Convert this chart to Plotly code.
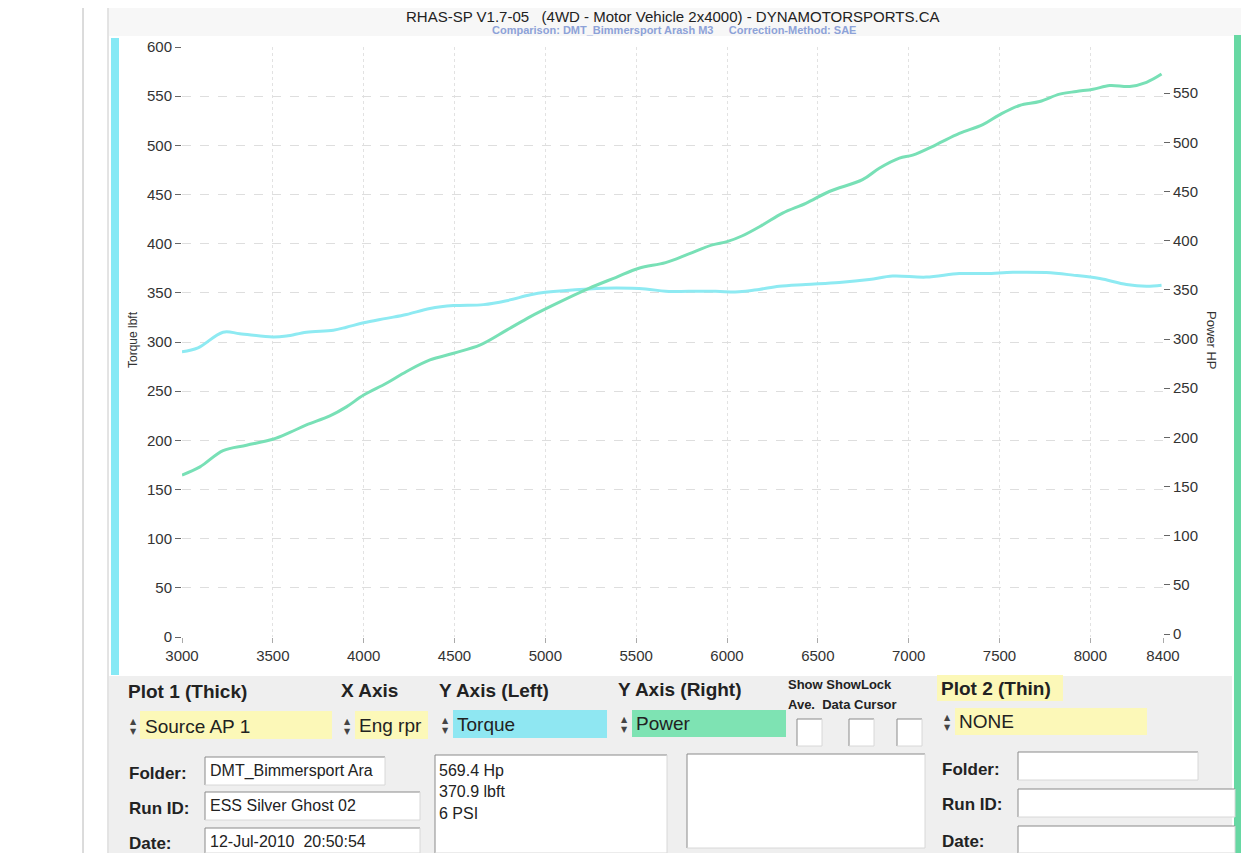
import plotly.graph_objects as go

# ---------------- data (read from the dyno sheet) ----------------
rpm_torque = [3000, 3088, 3226, 3318, 3500, 3575, 3685, 3833, 3905, 4000, 4125, 4236,
              4365, 4495, 4660, 4787, 4918, 5000, 5240, 5387, 5552, 5662, 5790, 5937,
              6066, 6177, 6287, 6434, 6618, 6783, 6912, 7096, 7279, 7426, 7574, 7757,
              7904, 8052, 8199, 8309, 8392]
torque = [290, 294, 310, 308.5, 305, 306, 310, 312, 315, 319.5, 324, 328,
          334, 337, 338, 342, 348, 350.5, 354, 355, 354, 351.5, 351.5, 351.5,
          351, 353.5, 356.7, 358.5, 360.5, 363.5, 367, 366, 369.6, 369.6, 370.9, 370.6,
          368, 364.5, 358.5, 356.7, 357.7]

rpm_power = [3000, 3099, 3226, 3355, 3500, 3594, 3685, 3814, 3905, 4000, 4125, 4236,
             4365, 4495, 4642, 4787, 4918, 5046, 5240, 5387, 5515, 5662, 5790, 5919,
             6000, 6085, 6196, 6306, 6434, 6563, 6746, 6838, 6949, 7022, 7150, 7279,
             7408, 7500, 7610, 7721, 7831, 7923, 8015, 8107, 8217, 8309, 8392]
power = [161.7, 170, 186.5, 192, 198, 205, 212.6, 221.8, 231, 243, 255, 267,
         278.7, 285.5, 294, 309, 322.8, 334.7, 351.5, 362.5, 372, 377.7, 386.6, 395.7,
         399, 405, 416, 428, 438, 450, 462, 473.7, 484, 487, 497.5, 509,
         518, 528, 537.5, 541.5, 549, 551.7, 554, 557.8, 556.8, 561, 569.4]

x_ticks = [3000, 3500, 4000, 4500, 5000, 5500, 6000, 6500, 7000, 7500, 8000, 8400]
y_ticks = [0, 50, 100, 150, 200, 250, 300, 350, 400, 450, 500, 550, 600]

title_text = "RHAS-SP V1.7-05\u00a0\u00a0\u00a0(4WD - Motor Vehicle 2x4000) - DYNAMOTORSPORTS.CA"
subtitle_text = "Comparison: DMT_Bimmersport Arash M3\u00a0\u00a0\u00a0\u00a0\u00a0Correction-Method: SAE"
summary_lines = ["569.4 Hp", "370.9 lbft", "6 PSI"]

# ---------------- layout helpers ----------------
# the page body has an 8px margin, so the figure is 8px smaller on each axis
OFF = 8
W, H = 1249 - OFF, 853 - OFF
def px(x):
    return (x - OFF) / W
def py(y):
    return 1 - (y - OFF) / H

FONT = "Liberation Sans, Arial, sans-serif"
TORQUE_C = "#8eeaf2"
POWER_C = "#78e0b6"
YELLOW = "#fcf8b8"
CYAN_BOX = "#8fe7f2"
GREEN_BOX = "#7ee3b3"

fig = go.Figure()
fig.add_trace(go.Scatter(x=rpm_torque, y=torque, mode="lines", line=dict(color=TORQUE_C, width=3),
                         yaxis="y", name="Torque", line_shape="spline"))
fig.add_trace(go.Scatter(x=rpm_power, y=power, mode="lines", line=dict(color=POWER_C, width=3),
                         yaxis="y2", name="Power", line_shape="spline"))

shapes = []
annotations = []

def rect(x0, y0, x1, y1, fill, line="rgba(0,0,0,0)", lw=0, layer="below"):
    shapes.append(dict(type="rect", xref="paper", yref="paper", x0=px(x0), x1=px(x1),
                       y0=py(y1), y1=py(y0), fillcolor=fill, line=dict(color=line, width=lw),
                       layer=layer))

def vline(x, y0, y1, color, w=1):
    shapes.append(dict(type="line", xref="paper", yref="paper", x0=px(x), x1=px(x),
                       y0=py(y0), y1=py(y1), line=dict(color=color, width=w), layer="below"))

def hline(x0, x1, y, color, w=1):
    shapes.append(dict(type="line", xref="paper", yref="paper", x0=px(x0), x1=px(x1),
                       y0=py(y), y1=py(y), line=dict(color=color, width=w), layer="below"))

def inset_box(x0, y0, x1, y1, fill="white"):
    rect(x0, y0, x1, y1, fill)
    hline(x0, x1, y0, "#8a8a8a", 1)
    vline(x0, y0, y1, "#8a8a8a", 1)
    hline(x0, x1, y1, "#d8d8d8", 1)
    vline(x1, y0, y1, "#d8d8d8", 1)

def text(x, y, s, size=16, bold=False, color="#222222", xanchor="left", angle=0, family=FONT):
    if bold:
        s = "<b>" + s + "</b>"
    annotations.append(dict(x=px(x), y=py(y), xref="paper", yref="paper", text=s,
                            showarrow=False, xanchor=xanchor, yanchor="middle",
                            font=dict(size=size, color=color, family=family),
                            textangle=angle))

def spinner(x, y):
    annotations.append(dict(x=px(x), y=py(y - 5), xref="paper", yref="paper", text="\u25b2",
                            showarrow=False, xanchor="center", yanchor="middle",
                            font=dict(size=8, color="#444444", family="DejaVu Sans")))
    annotations.append(dict(x=px(x), y=py(y + 5), xref="paper", yref="paper", text="\u25bc",
                            showarrow=False, xanchor="center", yanchor="middle",
                            font=dict(size=8, color="#444444", family="DejaVu Sans")))

# page decorations
vline(83, 8, 853, "#b8b8b8", 1)
vline(108, 8, 853, "#c8c8c8", 1)
rect(109, 8, 1249, 36, "#f7f7f7")
rect(109, 676, 1232, 853, "#efefef")
rect(111, 38, 119, 675, "#86e9f5")
rect(1234, 35, 1243, 853, "#67d8a3")

# titles
text(673, 17, title_text, size=15, xanchor="center", color="#222222")
text(674, 30, subtitle_text, size=11, bold=True, xanchor="center", color="#8da2d8")

# axis titles
text(133, 340, "Torque lbft", size=12, xanchor="center", angle=-90, color="#333333")
text(1211, 340, "Power HP", size=13, xanchor="center", angle=90, color="#333333")

# bottom panel - headers
text(126, 691, "Plot 1 (Thick)", size=19, bold=True)
text(339, 690, "X Axis", size=19, bold=True)
text(437, 690, "Y Axis (Left)", size=19, bold=True)
text(616, 689, "Y Axis (Right)", size=19, bold=True)
text(786, 684, "Show ShowLock", size=13, bold=True)
text(786, 704, "Ave.\u00a0\u00a0Data Cursor", size=13, bold=True)
rect(937, 675, 1063, 701, YELLOW)
text(939, 688, "Plot 2 (Thin)", size=19, bold=True)

# selectors
rect(140, 711, 332, 739, YELLOW)
spinner(133, 726)
text(143, 726, "Source AP 1", size=19)
rect(355, 711, 428, 739, YELLOW)
spinner(347, 726)
text(357, 725, "Eng rpr", size=19)
rect(453, 710, 607, 738, CYAN_BOX)
spinner(445, 725)
text(455, 724, "Torque", size=19)
rect(632, 710, 786, 737, GREEN_BOX)
spinner(624, 724)
text(634, 723, "Power", size=19)
for cx in (797, 849, 897):
    inset_box(cx, 719, cx + 25, 746)
rect(955, 708, 1147, 735, YELLOW)
spinner(947, 722)
text(957, 721, "NONE", size=19)

# run info (left)
text(127, 773, "Folder:", size=17, bold=True)
inset_box(205, 757, 385, 785)
text(208, 771, "DMT_Bimmersport Ara", size=16)
text(127, 808, "Run ID:", size=17, bold=True)
inset_box(205, 792, 420, 820)
text(208, 805, "ESS Silver Ghost 02", size=16)
text(127, 843, "Date:", size=17, bold=True)
inset_box(205, 828, 420, 853)
text(208, 841, "12-Jul-2010\u00a0\u00a020:50:54", size=16)

inset_box(435, 755, 667, 853)
for i, s in enumerate(summary_lines):
    text(437, 770 + 21.5 * i, s, size=16)
inset_box(687, 754, 925, 848)

# run info (right)
text(940, 769, "Folder:", size=17, bold=True)
inset_box(1018, 752, 1198, 780)
text(940, 804, "Run ID:", size=17, bold=True)
inset_box(1018, 789, 1235, 817)
text(940, 841, "Date:", size=17, bold=True)
inset_box(1018, 826, 1235, 853)

tick_font = dict(size=15, color="#333333", family=FONT)
r_off = 3 / (590 / 600)

fig.update_layout(
    width=W, height=H, autosize=False,
    margin=dict(l=0, r=0, t=0, b=0, pad=0, autoexpand=False),
    paper_bgcolor="white", plot_bgcolor="white",
    showlegend=False,
    xaxis=dict(domain=[px(182), px(1163)], range=[3000, 8400], tickvals=x_ticks,
               ticktext=[str(v) for v in x_ticks], ticks="outside", ticklen=5,
               tickcolor="#aaaaaa", tickfont=tick_font, showgrid=True, automargin=False,
               gridcolor="#e2e2e2", griddash="dot", zeroline=False, showline=False),
    yaxis=dict(domain=[py(637), py(47)], range=[0, 600], tickvals=y_ticks, automargin=False,
               ticks="outside", ticklen=6, tickcolor="#666666", tickfont=tick_font,
               showgrid=True, gridcolor="#dedede", griddash="dash", zeroline=False,
               showline=False),
    yaxis2=dict(overlaying="y", side="right", range=[-r_off, 600 - r_off], tickvals=y_ticks,
                ticks="outside", ticklen=6, tickcolor="#666666", tickfont=tick_font,
                automargin=False,
                showgrid=False, zeroline=False, showline=False, anchor="x"),
    shapes=shapes,
    annotations=annotations,
)

fig.write_html("out.html")
